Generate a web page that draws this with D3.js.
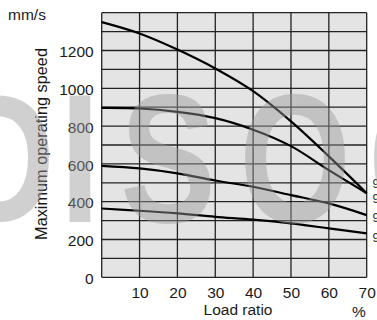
<!DOCTYPE html>
<html>
<head>
<meta charset="utf-8">
<script src="https://cdn.jsdelivr.net/npm/d3@7"></script>
<style>
  html, body { margin: 0; padding: 0; background: #fff; }
  svg { display: block; font-family: "Liberation Sans", Arial, sans-serif; }
</style>
</head>
<body>
<svg id="chart" width="377" height="320"></svg>
<script>
// load ratio (%) at which each curve was read
const loadRatio = [0, 10, 20, 30, 40, 50, 60, 70];
// maximum operating speed, mm/s
const curveA = [1350, 1290, 1205, 1105, 985, 825, 640, 445];
const curveB = [896, 893, 875, 842, 781, 694, 567, 445];
const curveC = [590, 576, 550, 512, 479, 435, 391, 329];
const curveD = [364, 352, 338, 320, 305, 285, 259, 232];
const seriesLabels = ["9", "9", "9", "9"];
const xTicks = [10, 20, 30, 40, 50, 60, 70];
const yTicks = [0, 200, 400, 600, 800, 1000, 1200];
const watermark = "DISOC";

const svg = d3.select("#chart");
const x = d3.scaleLinear().domain([0, 70]).range([101.7, 366.7]);
const y = d3.scaleLinear().domain([0, 1400]).range([277.3, 12.7]);
const ink = "#1a1a1a";

// plot background
svg.append("rect")
  .attr("x", x(0)).attr("y", y(1400))
  .attr("width", x(70) - x(0)).attr("height", y(0) - y(1400))
  .attr("fill", "#e4e4e4");

// grid: every 10 % and every 100 mm/s
const grid = svg.append("g").attr("stroke", "#222").attr("stroke-width", 1.3);
grid.selectAll("line.v").data(d3.range(0, 71, 10)).join("line").attr("class", "v")
  .attr("x1", (d) => x(d)).attr("x2", (d) => x(d)).attr("y1", y(0)).attr("y2", y(1400));
grid.selectAll("line.h").data(d3.range(0, 1401, 100)).join("line").attr("class", "h")
  .attr("y1", (d) => y(d)).attr("y2", (d) => y(d)).attr("x1", x(0)).attr("x2", x(70));

// curves
const line = d3.line().x((_, i) => x(loadRatio[i])).y((v) => y(v)).curve(d3.curveCatmullRom.alpha(0.5));
svg.append("g").selectAll("path").data([curveA, curveB, curveC, curveD]).join("path")
  .attr("fill", "none").attr("stroke", "#000").attr("stroke-width", 2.2).attr("d", line);

// series labels, cut off by the right edge
svg.append("g").selectAll("text").data([curveA, curveB, curveC, curveD]).join("text")
  .attr("x", 372.5).attr("y", (d, i) => [184, 199, 217.5, 237.5][i])
  .attr("dy", "0.35em").attr("font-size", 12).attr("fill", "#333")
  .text((_, i) => seriesLabels[i]);

// axes
const xAxis = d3.axisBottom(x).tickValues(xTicks).tickSize(0).tickPadding(10);
svg.append("g").attr("transform", `translate(0,${y(0)})`).call(xAxis)
  .call((g) => g.select(".domain").remove())
  .call((g) => g.selectAll("text").attr("font-size", 15.5).attr("fill", ink).attr("font-family", null));
const yAxis = d3.axisLeft(y).tickValues(yTicks).tickFormat(d3.format("d")).tickSize(0).tickPadding(8);
svg.append("g").attr("transform", `translate(${x(0)},0)`).call(yAxis)
  .call((g) => g.select(".domain").remove())
  .call((g) => g.selectAll("text").attr("font-size", 15.5).attr("fill", ink).attr("font-family", null).attr("dy", "0.4em"));

svg.append("text").attr("x", 8).attr("y", 20).attr("font-size", 15.5).attr("fill", ink).text("mm/s");
svg.append("text").attr("transform", "translate(47,144) rotate(-90)")
  .attr("text-anchor", "middle").attr("font-size", 16.3).attr("fill", ink).text("Maximum operating speed");
svg.append("text").attr("x", 238).attr("y", 315).attr("text-anchor", "middle")
  .attr("font-size", 15.5).attr("fill", ink).text("Load ratio");
svg.append("text").attr("x", 359).attr("y", 317).attr("text-anchor", "middle")
  .attr("font-size", 15.5).attr("fill", ink).text("%");

// faint watermark letters over the chart
const sx = 0.78;
svg.append("text")
  .attr("transform", `scale(${sx},1)`)
  .attr("x", [3, 80, 168, 295, 420].map((v) => v / sx).join(" "))
  .attr("y", 222)
  .attr("text-anchor", "middle")
  .attr("font-size", 184).attr("font-weight", "bold")
  .attr("fill", "#999").attr("opacity", 0.45)
  .text(watermark);
</script>
</body>
</html>
